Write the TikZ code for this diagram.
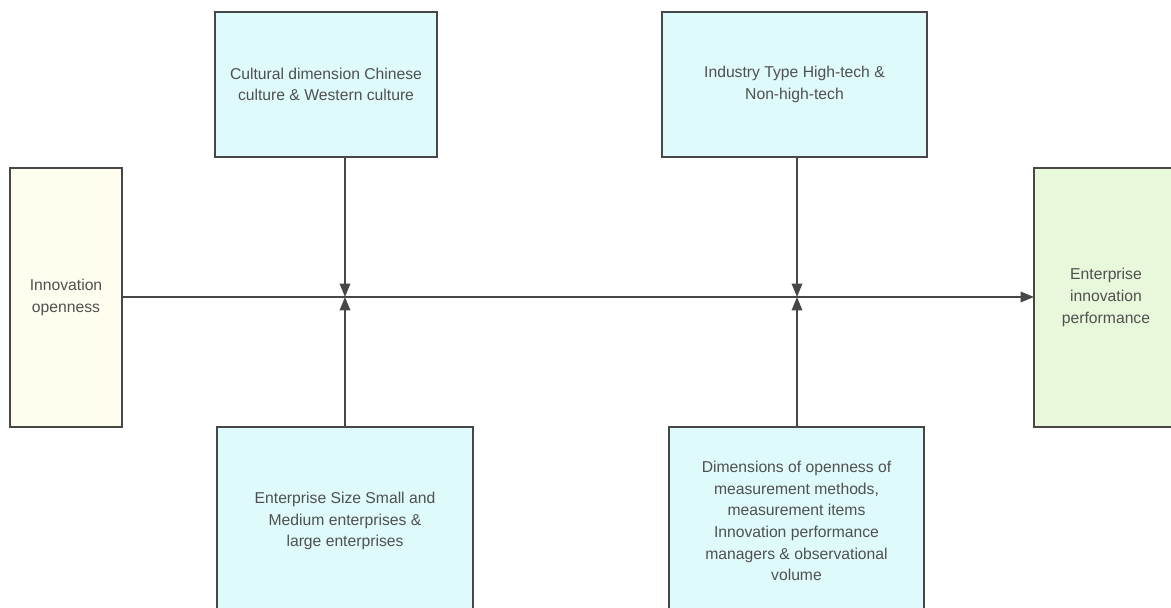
\documentclass[tikz,border=0pt]{standalone}
\usepackage{fontspec}
\setmainfont{Liberation Sans}
\definecolor{cyanbox}{HTML}{DFFAFB}
\definecolor{yellowbox}{HTML}{FEFDEE}
\definecolor{greenbox}{HTML}{E8F8DA}
\definecolor{edge}{HTML}{474747}
\definecolor{label}{HTML}{505050}
\usepackage{tikz}
\usetikzlibrary{arrows.meta}
\usetikzlibrary{positioning}
\tikzstyle{base}=[inner sep=0pt, outer sep=0pt]
\tikzstyle{box}=[base, draw=edge, line width=1.4pt, text=label, align=center, font=\fontsize{13.4}{18.5}\selectfont]
\tikzstyle{link}=[draw=edge, line width=1.5pt, -{Triangle[length=11.5pt, width=9pt]}]

\begin{document}
\begin{tikzpicture}
    \clip (0,0) rectangle (35.13,18.21);
    \fill [white] (0,0) rectangle (35.13,18.21);
        \node [box, fill=yellowbox, minimum width=3.36cm, minimum height=7.77cm] (inno) at (1.98,9.285) {Innovation\\openness};
        \node [box, fill=greenbox, minimum width=4.32cm, minimum height=7.77cm] (perf) at (33.18,9.285) {Enterprise\\innovation\\performance};
        \node [box, fill=cyanbox, minimum width=6.66cm, minimum height=4.35cm] (cult) at (9.78,15.675) {Cultural dimension Chinese\\culture \& Western culture};
        \node [box, fill=cyanbox, minimum width=7.95cm, minimum height=4.35cm] (ind) at (23.835,15.675) {Industry Type High-tech \&\\Non-high-tech};
        \node [box, fill=cyanbox, minimum width=7.68cm, minimum height=5.64cm] (size) at (10.35,2.58) {Enterprise Size Small and\\Medium enterprises \&\\large enterprises};
        \node [box, fill=cyanbox, minimum width=7.65cm, minimum height=5.64cm] (meas) at (23.895,2.58) {Dimensions of openness of\\measurement methods,\\measurement items\\Innovation performance\\managers \& observational\\volume};
        % meeting points on the main line
        \coordinate (j1) at (10.35,9.3);
        \coordinate (j2) at (23.91,9.3);
        \draw [link] (inno.east |- j1) -- (perf.west |- j1);
        \draw [link] (cult.south -| j1) -- (j1);
        \draw [link] (size) -- (j1);
        \draw [link] (ind.south -| j2) -- (j2);
        \draw [link] (meas.north -| j2) -- (j2);
    \end{tikzpicture}
\end{document}
